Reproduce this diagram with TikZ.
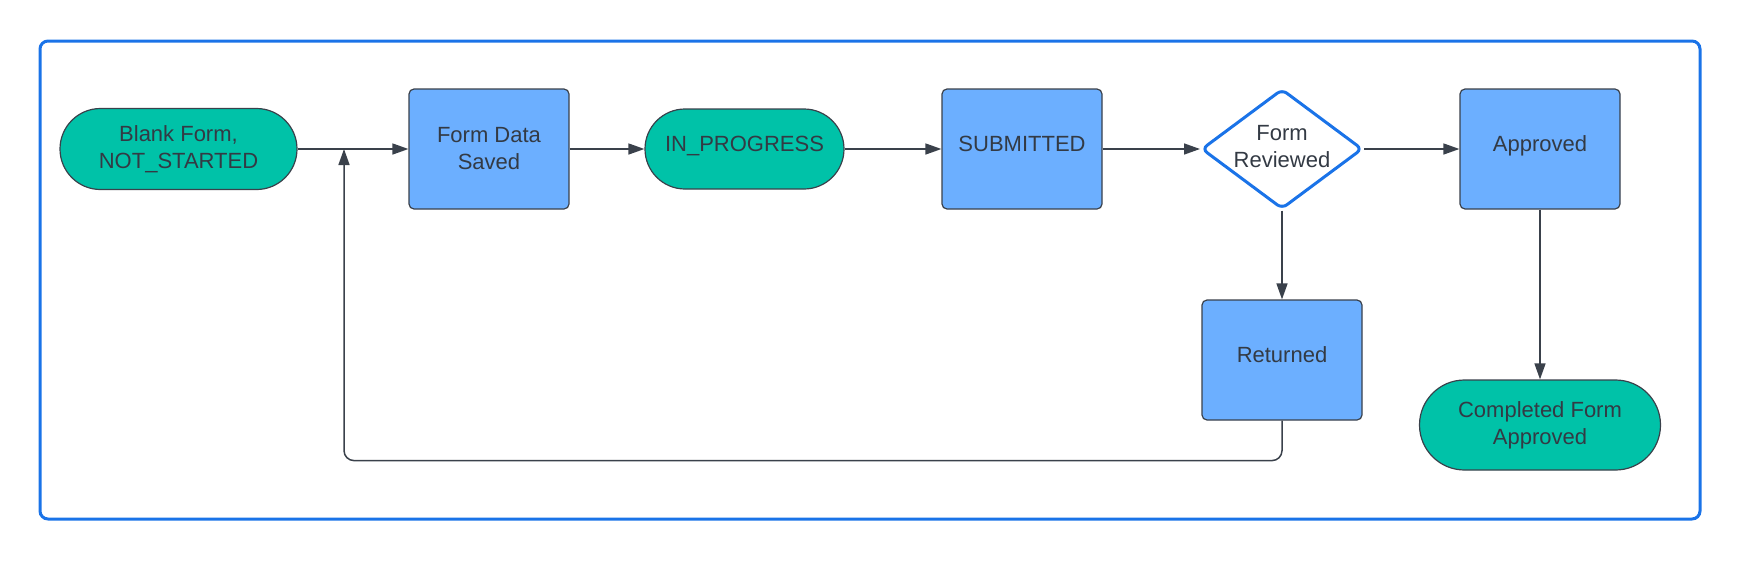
\documentclass[tikz,border=0pt]{standalone}
\usepackage{fontspec}
\setmainfont{Liberation Sans}
\usetikzlibrary{shapes.geometric,shapes.misc,arrows.meta}
\definecolor{stgreen}{HTML}{00C2A8}
\definecolor{boxblue}{HTML}{6CAFFF}
\definecolor{frameblue}{HTML}{1A73E8}
\definecolor{ink}{HTML}{333A44}
\definecolor{edge}{HTML}{3A414B}
\tikzset{
  base/.style={font=\fontsize{22pt}{27pt}\selectfont, text=ink, align=center, inner sep=0pt},
  oneline/.style={text height=0.75em, text depth=0.3em},
  stad/.style={base, rounded rectangle, fill=stgreen, draw=edge, line width=1.2pt},
  stepbox/.style={base, rectangle, rounded corners=5pt, fill=boxblue, draw=edge, line width=1.2pt,
    minimum width=160pt, minimum height=120pt},
  decide/.style={diamond, draw=frameblue, fill=white, line width=3pt, rounded corners=6pt, inner sep=0pt},
  conn/.style={draw=edge, line width=1.5pt, -{Triangle[length=16pt,width=11pt]}},
}
\begin{document}
\begin{tikzpicture}[x=1pt,y=-1pt]
\useasboundingbox (0,0) rectangle (1740,560);
\draw[frameblue, line width=3pt, rounded corners=8pt] (40,41) rectangle (1700,519);

\node[stad, minimum width=237pt, minimum height=81pt] (blank) at (178.5,149) {Blank Form,\\NOT\_STARTED};
\node[stepbox] (fds) at (489,149) {Form Data\\Saved};
\node[stad, oneline, minimum width=199pt, minimum height=80pt] (inprog) at (744.5,149) {IN\_PROGRESS};
\node[stepbox, oneline] (sub) at (1022,149) {SUBMITTED};
\node[decide, minimum width=161pt, minimum height=120pt] (rev) at (1282,149) {};
\node[base] (revtxt) at (1282,147) {Form\\Reviewed};
\node[stepbox, oneline] (appr) at (1540,149) {Approved};
\node[stepbox, oneline] (ret) at (1282,360) {Returned};
\node[stad, minimum width=241pt, minimum height=90pt] (done) at (1540,425) {Completed Form\\Approved};

\coordinate (join) at (344,149);

\draw[conn] (blank.east) -- (fds.west);
\draw[conn] (fds.east) -- (inprog.west);
\draw[conn] (inprog.east) -- (sub.west);
\draw[conn] (sub.east) -- (rev.west);
\draw[conn] (rev.east) -- (appr.west);
\draw[conn] (rev.south) -- (ret.north);
\draw[conn] (appr.south) -- (done.north);
\draw[conn, rounded corners=10pt] (ret.south) -- ++(0,40) -| (join);
\end{tikzpicture}
\end{document}
